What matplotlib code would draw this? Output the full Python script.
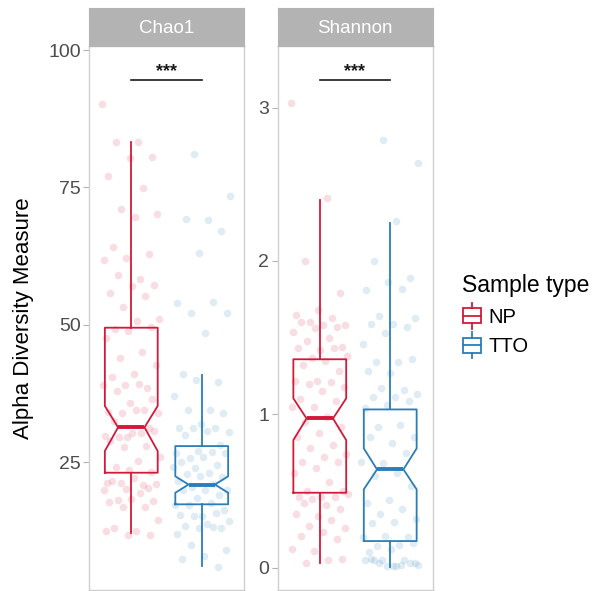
import matplotlib
matplotlib.use("Agg")
import matplotlib.pyplot as plt
from matplotlib.legend_handler import HandlerBase
from matplotlib.patches import Rectangle
from matplotlib.lines import Line2D
import numpy as np

plt.rcParams['font.family'] = ['Liberation Sans', 'DejaVu Sans']

# ---------------- data ----------------
groups = ["NP", "TTO"]
measures = ["Chao1", "Shannon"]
colors = {"NP": "#D3193A", "TTO": "#2A7DB8"}

chao1_np = [90.1, 83.3, 83.2, 80.5, 80.3, 77.1, 74.8, 71.1, 70.2, 69.6, 64.2, 62.8, 62.2,
            61.7, 58.4, 59.1, 57.2, 57.1, 55.8, 55.3, 53.2, 51.1, 50.6, 49.3, 49.5, 48.9,
            47.5, 45.1, 44.0, 42.6, 41.1, 40.5, 38.4, 39.0, 39.0, 39.2, 38.0, 36.5, 35.8,
            34.1, 34.5, 33.9, 33.9, 34.5, 32.5, 31.1, 29.6, 29.7, 30.2, 29.6, 30.7, 30.2,
            28.9, 27.9, 27.8, 26.0, 25.1, 24.1, 23.2, 23.5, 21.1, 20.9, 21.2, 21.0, 22.0,
            21.6, 20.2, 20.1, 19.9, 19.3, 18.1, 17.9, 18.2, 17.8, 16.8, 16.8, 14.4, 12.4,
            12.9, 11.8, 11.8, 12.4]
chao1_tto = [81.0, 73.4, 69.1, 69.2, 67.0, 63.0, 54.0, 54.1, 52.2, 52.2, 48.5, 41.0, 39.5,
             40.0, 37.0, 34.5, 34.5, 34.0, 31.9, 31.1, 31.1, 31.1, 30.5, 30.7, 29.9, 28.1,
             27.0, 26.6, 26.9, 25.7, 26.6, 26.0, 25.0, 24.5, 23.9, 24.0, 23.0, 22.8, 22.3,
             22.4, 21.5, 21.0, 20.5, 19.9, 19.9, 19.9, 19.0, 18.5, 17.2, 17.5, 17.2, 16.2,
             15.1, 15.3, 15.7, 15.1, 14.2, 13.8, 13.3, 12.9, 12.9, 11.9, 13.1, 9.9, 8.9,
             7.9, 7.4, 5.9]
shannon_np = [3.03, 2.41, 2.0, 1.79, 1.68, 1.65, 1.63, 1.60, 1.58, 1.58, 1.60, 1.57, 1.56,
              1.54, 1.50, 1.48, 1.44, 1.42, 1.43, 1.43, 1.37, 1.38, 1.35, 1.32, 1.28, 1.22,
              1.22, 1.21, 1.20, 1.18, 1.15, 1.10, 1.09, 1.05, 1.05, 0.98, 0.95, 0.92, 0.88,
              0.85, 0.80, 0.78, 0.74, 0.72, 0.69, 0.69, 0.65, 0.62, 0.56, 0.50, 0.50, 0.46,
              0.46, 0.46, 0.45, 0.48, 0.41, 0.42, 0.38, 0.34, 0.35, 0.31, 0.27, 0.26, 0.23,
              0.21, 0.19, 0.11, 0.12, 0.05, 0.03, 0.06]
shannon_tto = [2.79, 2.64, 2.26, 2.0, 1.89, 1.86, 1.81, 1.82, 1.64, 1.63, 1.59, 1.59, 1.57,
               1.53, 1.46, 1.34, 1.34, 1.36, 1.27, 1.28, 1.16, 1.17, 1.13, 1.11, 1.11, 1.09,
               1.06, 1.04, 0.93, 0.92, 0.85, 0.81, 0.85, 0.75, 0.68, 0.69, 0.62, 0.60, 0.53,
               0.44, 0.42, 0.38, 0.35, 0.32, 0.30, 0.29, 0.20, 0.21, 0.20, 0.15, 0.14, 0.16,
               0.12, 0.10, 0.05, 0.05, 0.02, 0.01, 0.05, 0.03, 0.01, 0.05, 0.02, 0.03, 0.03,
               0.01, 0.06]

# box statistics: [whislo, q1, cilo, med, cihi, q3, whishi]
box_chao1_np = [12.0, 23.05, 27.0, 31.3, 35.2, 49.45, 83.2]
box_chao1_tto = [6.0, 17.3, 19.4, 20.9, 22.4, 27.9, 40.9]
box_shannon_np = [0.03, 0.489, 0.832, 0.973, 1.104, 1.359, 2.40]
box_shannon_tto = [0.007, 0.174, 0.511, 0.641, 0.778, 1.032, 2.25]

chao1_ticks = [25, 50, 75, 100]
shannon_ticks = [0, 1, 2, 3]
signif_label = "***"
signif_y = {"Chao1": 94.5, "Shannon": 3.18}

points = {"Chao1": {"NP": chao1_np, "TTO": chao1_tto},
          "Shannon": {"NP": shannon_np, "TTO": shannon_tto}}
boxes = {"Chao1": {"NP": box_chao1_np, "TTO": box_chao1_tto},
         "Shannon": {"NP": box_shannon_np, "TTO": box_shannon_tto}}
ticks = {"Chao1": chao1_ticks, "Shannon": shannon_ticks}
ylims = {"Chao1": (1.7, 100.73), "Shannon": (-0.145, 3.401)}

# ---------------- figure ----------------
W, H = 595, 591
fig = plt.figure(figsize=(W / 100, H / 100), dpi=100)

def fx(px):
    return px / W

def fy(py):
    return 1 - py / H

panel_left = {"Chao1": 89, "Shannon": 277.5}
panel_w = 155
panel_top, panel_bot = 46, 590
strip_top = 8
border_col = "#CFCFCF"

for m in measures:
    ax = fig.add_axes([fx(panel_left[m]), fy(panel_bot), fx(panel_w), (panel_bot - panel_top) / H])
    ax.set_xlim(0.4, 2.6)
    ax.set_ylim(*ylims[m])
    for gi, g in enumerate(groups):
        pos = gi + 1
        vals = points[m][g]
        n = len(vals)
        jit = [((i * 0.6180339 + 0.37 * gi) % 1.0 - 0.5) * 0.82 for i in range(n)]
        ax.scatter([pos + j for j in jit], vals, s=30, color=colors[g], alpha=0.14,
                   linewidths=0, zorder=1)
        b = boxes[m][g]
        stats = [dict(whislo=b[0], q1=b[1], cilo=b[2], med=b[3], cihi=b[4], q3=b[5],
                      whishi=b[6], fliers=[])]
        ax.bxp(stats, positions=[pos], widths=0.75, shownotches=True, showcaps=False,
               showfliers=False, patch_artist=False, manage_ticks=False,
               boxprops=dict(color=colors[g], linewidth=1.3),
               whiskerprops=dict(color=colors[g], linewidth=1.3),
               medianprops=dict(color=colors[g], linewidth=2.8, solid_capstyle='butt'))
    # significance
    ys = signif_y[m]
    ax.plot([1, 2], [ys, ys], color="#1a1a1a", lw=1.2, zorder=3)
    ax.text(1.5, ys, signif_label, ha="center", va="bottom", fontsize=13,
            fontweight="bold", color="#1a1a1a")
    ax.set_xticks([])
    ax.set_yticks(ticks[m])
    ax.set_yticklabels([str(t) for t in ticks[m]])
    ax.tick_params(axis='y', length=4, width=0.8, color="#B3B3B3", labelsize=14,
                   labelcolor="#4D4D4D", pad=2)
    for sp in ax.spines.values():
        sp.set_color(border_col)
        sp.set_linewidth(1.0)
    # strip
    sax = fig.add_axes([fx(panel_left[m]), fy(panel_top), fx(panel_w), (panel_top - strip_top) / H])
    sax.set_facecolor("#B3B3B3")
    sax.set_xticks([]); sax.set_yticks([])
    for sp in sax.spines.values():
        sp.set_color("#B3B3B3")
    sax.text(0.5, 0.45, m, ha="center", va="center", fontsize=13.5, color="white",
             transform=sax.transAxes)

fig.text(fx(24), fy(318), "Alpha Diversity Measure", rotation=90, ha="center", va="center",
         fontsize=16, color="black")

# legend with boxplot glyphs
class HandlerBoxGlyph(HandlerBase):
    def create_artists(self, legend, orig_handle, xdescent, ydescent, width, height,
                       fontsize, trans):
        c = orig_handle.get_color()
        bw = width * 0.9
        x0 = xdescent + (width - bw) / 2
        y0 = -ydescent
        h = height
        rect = Rectangle((x0, y0 + h * 0.12), bw, h * 0.76, fill=False, edgecolor=c,
                         lw=1.3, transform=trans)
        med = Line2D([x0, x0 + bw], [y0 + h * 0.5, y0 + h * 0.5], color=c, lw=1.3,
                     transform=trans)
        wt = Line2D([x0 + bw / 2, x0 + bw / 2], [y0 + h * 0.88, y0 + h * 1.18], color=c,
                    lw=1.3, transform=trans)
        wb = Line2D([x0 + bw / 2, x0 + bw / 2], [y0 - h * 0.18, y0 + h * 0.12], color=c,
                    lw=1.3, transform=trans)
        return [rect, med, wt, wb]

handles = [Line2D([], [], color=colors[g]) for g in groups]
leg = fig.legend(handles, groups, loc="upper left", bbox_to_anchor=(fx(462), fy(274)),
                 title="Sample type", frameon=False, fontsize=14.5, title_fontsize=16.5,
                 handler_map={Line2D: HandlerBoxGlyph()}, handlelength=1.0,
                 handleheight=1.1, handletextpad=0.3, labelspacing=0.45, borderpad=0.0,
                 borderaxespad=0.0)
leg._legend_box.align = "left"

fig.savefig("out.png", dpi=100)
